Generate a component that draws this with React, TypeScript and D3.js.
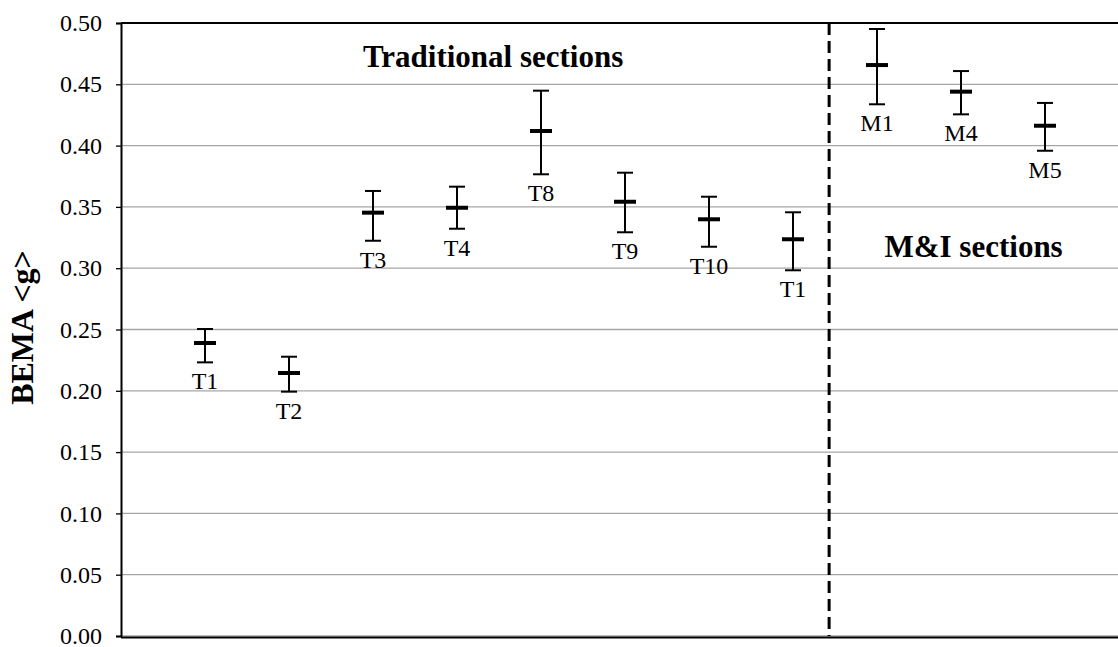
import * as d3 from "d3";
import { useEffect, useRef } from "react";

const labels = ["T1", "T2", "T3", "T4", "T8", "T9", "T10", "T1", "M1", "M4", "M5"];
const xPos = [1, 2, 3, 4, 5, 6, 7, 8, 9, 10, 11];
const means = [0.239, 0.2145, 0.3453, 0.3493, 0.4119, 0.3542, 0.3399, 0.3236, 0.4657, 0.444, 0.4162];
const upper = [0.2504, 0.2278, 0.363, 0.3665, 0.4448, 0.3779, 0.3583, 0.3456, 0.4951, 0.4608, 0.4348];
const lower = [0.2232, 0.1993, 0.3224, 0.3322, 0.3766, 0.3293, 0.3175, 0.2983, 0.4337, 0.4255, 0.3958];
const yTicks = [0, 0.05, 0.1, 0.15, 0.2, 0.25, 0.3, 0.35, 0.4, 0.45, 0.5];
const dividerX = 8.43;

const FONT = "'Liberation Serif', 'Times New Roman', serif";

export default function App() {
  const svgRef = useRef<SVGSVGElement | null>(null);

  useEffect(() => {
    if (!svgRef.current) return;
    const svg = d3.select(svgRef.current);
    svg.selectAll("*").remove();

    const width = 1118;
    const height = 647;
    const left = 121;
    const top = 23;
    const bottom = 636;

    const x = d3.scaleLinear().domain([0, 12]).range([left, left + 1008]);
    const y = d3.scaleLinear().domain([0, 0.5]).range([bottom, top]);

    svg.attr("width", width).attr("height", height);

    // gridlines
    svg.append("g")
      .selectAll("line")
      .data(yTicks.filter(t => t > 0 && t < 0.5))
      .enter()
      .append("line")
      .attr("x1", left)
      .attr("x2", width)
      .attr("y1", d => y(d))
      .attr("y2", d => y(d))
      .attr("stroke", "#a6a6a6")
      .attr("stroke-width", 1.3);

    // plot border top + bottom
    svg.append("line")
      .attr("x1", left).attr("x2", width)
      .attr("y1", y(0.5)).attr("y2", y(0.5))
      .attr("stroke", "#000").attr("stroke-width", 2);
    svg.append("line")
      .attr("x1", left).attr("x2", width)
      .attr("y1", y(0)).attr("y2", y(0))
      .attr("stroke", "#a6a6a6").attr("stroke-width", 1.3);
    svg.append("line")
      .attr("x1", left).attr("x2", width)
      .attr("y1", y(0) + 1.5).attr("y2", y(0) + 1.5)
      .attr("stroke", "#000").attr("stroke-width", 2);

    // y axis
    const yAxis = svg.append("g")
      .attr("transform", `translate(${left},0)`)
      .call(d3.axisLeft(y).tickValues(yTicks).tickFormat(d3.format(".2f")).tickSize(5).tickPadding(14));
    yAxis.select(".domain").attr("stroke-width", 2);
    yAxis.selectAll(".tick line").attr("stroke-width", 1.3);
    yAxis.selectAll("text")
      .attr("font-family", FONT)
      .attr("font-size", 24)
      .attr("fill", "#000");

    // divider
    svg.append("line")
      .attr("x1", x(dividerX)).attr("x2", x(dividerX))
      .attr("y1", y(0.5)).attr("y2", y(0))
      .attr("stroke", "#000")
      .attr("stroke-width", 3)
      .attr("stroke-dasharray", "12,6");

    const idx = d3.range(labels.length);
    const g = svg.append("g");

    // error bars
    g.selectAll("line.err")
      .data(idx)
      .enter()
      .append("line")
      .attr("class", "err")
      .attr("x1", i => x(xPos[i])).attr("x2", i => x(xPos[i]))
      .attr("y1", i => y(upper[i])).attr("y2", i => y(lower[i]))
      .attr("stroke", "#000").attr("stroke-width", 2);

    const capW = 8;
    [upper, lower].forEach(arr => {
      g.selectAll(null)
        .data(idx)
        .enter()
        .append("line")
        .attr("x1", i => x(xPos[i]) - capW).attr("x2", i => x(xPos[i]) + capW)
        .attr("y1", i => y(arr[i])).attr("y2", i => y(arr[i]))
        .attr("stroke", "#000").attr("stroke-width", 2);
    });

    // mean markers
    g.selectAll("line.mean")
      .data(idx)
      .enter()
      .append("line")
      .attr("class", "mean")
      .attr("x1", i => x(xPos[i]) - 11).attr("x2", i => x(xPos[i]) + 11)
      .attr("y1", i => y(means[i])).attr("y2", i => y(means[i]))
      .attr("stroke", "#000").attr("stroke-width", 4);

    // point labels
    g.selectAll("text.lbl")
      .data(idx)
      .enter()
      .append("text")
      .attr("class", "lbl")
      .attr("x", i => x(xPos[i]))
      .attr("y", i => y(lower[i]) + 27)
      .attr("text-anchor", "middle")
      .attr("font-family", FONT)
      .attr("font-size", 24)
      .text(i => labels[i]);

    // section titles
    svg.append("text")
      .attr("x", x(4.43)).attr("y", y(0.464))
      .attr("text-anchor", "middle")
      .attr("font-family", FONT).attr("font-weight", "bold").attr("font-size", 31)
      .text("Traditional sections");
    svg.append("text")
      .attr("x", x(10.15)).attr("y", y(0.309))
      .attr("text-anchor", "middle")
      .attr("font-family", FONT).attr("font-weight", "bold").attr("font-size", 31)
      .text("M&I sections");

    // y title
    svg.append("text")
      .attr("transform", `translate(33,${(top + bottom) / 2 - 2}) rotate(-90)`)
      .attr("text-anchor", "middle")
      .attr("font-family", FONT).attr("font-weight", "bold").attr("font-size", 32)
      .text("BEMA <g>");
  }, []);

  return (
    <div style={{ position: "absolute", left: 0, top: 0, width: 1118, height: 647, background: "#fff" }}>
      <svg ref={svgRef} style={{ display: "block" }}></svg>
    </div>
  );
}
